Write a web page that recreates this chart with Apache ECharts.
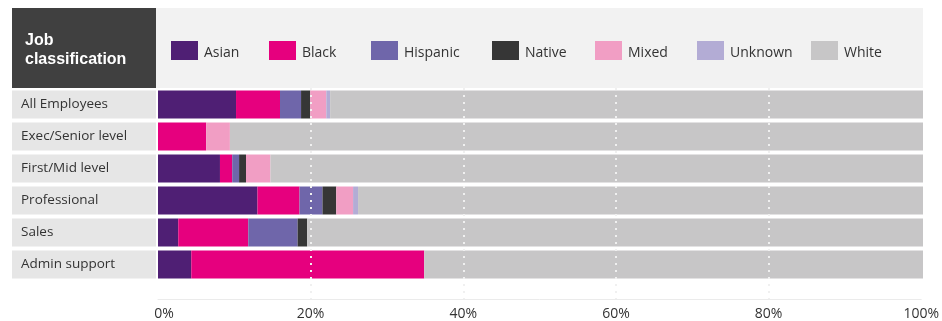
<!DOCTYPE html>
<html>
<head>
<meta charset="utf-8">
<script src="https://cdn.jsdelivr.net/npm/echarts@6/dist/echarts.min.js"></script>
<style>html,body{margin:0;padding:0;background:#fff}#c{width:942px;height:321px}</style>
</head>
<body>
<div id="c"></div>
<script>
const categories = ['All Employees', 'Exec/Senior level', 'First/Mid level', 'Professional', 'Sales', 'Admin support'];
const seriesNames = ['Asian', 'Black', 'Hispanic', 'Native', 'Mixed', 'Unknown', 'White'];
const asian    = [10.2, 0,   8.1, 13.0, 2.65, 4.35];
const black    = [5.75, 6.3, 1.6, 5.5,  9.15, 30.45];
const hispanic = [2.75, 0,   0.9, 3.0,  6.45, 0];
const native   = [1.2,  0,   0.9, 1.8,  1.25, 0];
const mixed    = [2.1,  3.1, 3.2, 2.2,  0,    0];
const unknown  = [0.5,  0,   0,   0.65, 0,    0];
const white    = [77.5, 90.6, 85.3, 73.85, 80.5, 65.2];
const tickValues = [0, 20, 40, 60, 80, 100];

const seriesData = [asian, black, hispanic, native, mixed, unknown, white];
const colors = ['#4f1f74', '#e6007e', '#6f66aa', '#363636', '#f19ec4', '#b3acd5', '#c7c6c7'];
const legendLeft = [171, 269, 371, 492, 595, 697, 811];

const chart = echarts.init(document.getElementById('c'), null, {renderer: 'canvas'});
const font = '"Open Sans", sans-serif';

chart.setOption({
  animation: false,
  textStyle: {fontFamily: font},
  graphic: [
    {type: 'rect', shape: {x: 12, y: 8, width: 144, height: 80}, style: {fill: '#404040'}, z: 0},
    {type: 'rect', shape: {x: 156, y: 8, width: 767, height: 80}, style: {fill: '#f2f2f2'}, z: 0},
    {type: 'text', x: 25, y: 31, z: 1, style: {text: 'Job\nclassification', fill: '#ffffff', font: 'bold 16px "Liberation Sans", Arial, sans-serif', lineHeight: 19}}
  ],
  legend: seriesNames.map((n, i) => ({
    data: [n], left: legendLeft[i], top: 41, padding: 0,
    itemWidth: 27, itemHeight: 19, itemGap: 0, icon: 'rect',
    selectedMode: false,
    formatter: name => '{a|' + name + '}',
    textStyle: {fontSize: 14, color: '#333', fontFamily: font,
                rich: {a: {fontSize: 14, color: '#333', fontFamily: font, padding: [5, 0, 0, 1]}}}
  })),
  grid: [
    {left: 158, right: 19, top: 88.5, height: 192, containLabel: false},
    {left: 158, right: 19, top: 88, height: 211, containLabel: false}
  ],
  xAxis: [
    {gridIndex: 0, type: 'value', min: 0, max: 100, show: false},
    {gridIndex: 1, type: 'value', min: tickValues[0], max: tickValues[tickValues.length - 1], interval: 20, z: 10,
     axisLine: {show: true, lineStyle: {color: '#ebebeb', width: 1}},
     axisTick: {show: false},
     splitLine: {show: true, showMinLine: false, showMaxLine: false, lineStyle: {color: '#f0f0f0', width: 2, type: [2, 5]}},
     axisLabel: {formatter: v => v === 0 ? '{z|0%}' : v + '%', fontSize: 14, color: '#333', margin: 8, fontFamily: font,
                 rich: {z: {fontSize: 14, color: '#333', fontFamily: font, padding: [0, 0, 0, 12]}}}}
  ],
  yAxis: [
    {gridIndex: 0, type: 'category', data: categories, inverse: true,
     axisLine: {show: false}, axisTick: {show: false}, splitLine: {show: false},
     axisLabel: {align: 'left', margin: 146, backgroundColor: '#e6e6e6', width: 135, height: 25, lineHeight: 25,
                 padding: [3, 0, 0, 9], fontSize: 13.5, color: '#333', fontFamily: font}},
    {gridIndex: 1, type: 'category', data: [''], show: false}
  ],
  series: seriesNames.map((n, i) => ({
    name: n, type: 'bar', stack: 'total', xAxisIndex: 0, yAxisIndex: 0,
    barWidth: 28, data: seriesData[i], silent: true,
    itemStyle: {color: colors[i]}, emphasis: {disabled: true}
  }))
});
</script>
</body>
</html>
